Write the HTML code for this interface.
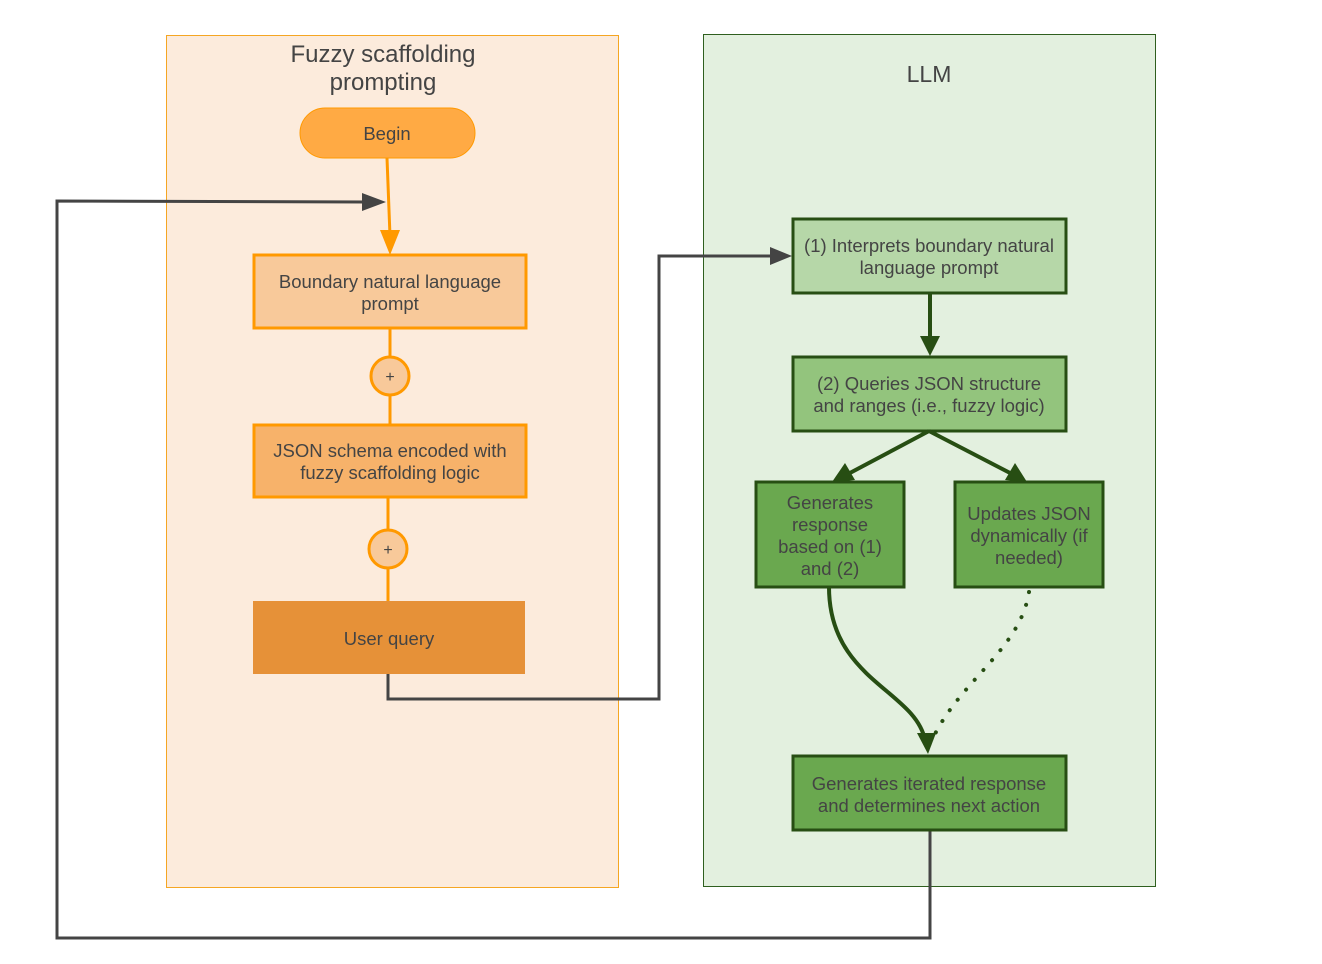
<!DOCTYPE html>
<html><head><meta charset="utf-8"><style>
html,body{margin:0;padding:0;background:#fff;}
svg text{font-family:"Liberation Sans",Arial,sans-serif;fill:#444;}
</style></head><body>
<svg width="1322" height="959" viewBox="0 0 1322 959" xmlns="http://www.w3.org/2000/svg">
<rect x="166.5" y="35.5" width="452" height="852" fill="#fcebdc" stroke="#f5a623" stroke-width="1"/>
<rect x="703.5" y="34.5" width="452" height="852" fill="#e3f0df" stroke="#2f5f1f" stroke-width="1"/>
<text x="383" y="62" font-size="24" text-anchor="middle">Fuzzy scaffolding</text>
<text x="383" y="90" font-size="24" text-anchor="middle">prompting</text>
<text x="929" y="82" font-size="23" text-anchor="middle">LLM</text>

<rect x="300" y="108" width="175" height="50" rx="25" fill="#ffaa44" stroke="#ff9900" stroke-width="1"/>
<text x="387" y="140" font-size="18.5" text-anchor="middle">Begin</text>

<line x1="387" y1="158" x2="390" y2="236" stroke="#ff9900" stroke-width="3"/>
<path d="M380,230 L400,230 L390,255 z" fill="#ff9900"/>
<line x1="390" y1="328" x2="390" y2="425" stroke="#ff9900" stroke-width="3"/>
<line x1="388" y1="497" x2="388" y2="602" stroke="#ff9900" stroke-width="3"/>
<circle cx="390" cy="376" r="19" fill="#f8c99a" stroke="#ff9900" stroke-width="3"/>
<text x="390" y="382" font-size="16" text-anchor="middle">+</text>
<circle cx="388" cy="549" r="19" fill="#f8c99a" stroke="#ff9900" stroke-width="3"/>
<text x="388" y="555" font-size="16" text-anchor="middle">+</text>

<rect x="254" y="255" width="272" height="73" fill="#f8c99a" stroke="#ff9900" stroke-width="3"/>
<text x="390" y="288" font-size="18.5" text-anchor="middle">Boundary natural language</text>
<text x="390" y="310" font-size="18.5" text-anchor="middle">prompt</text>
<rect x="254" y="425" width="272" height="72" fill="#f7b26a" stroke="#ff9900" stroke-width="3"/>
<text x="390" y="457" font-size="18.5" text-anchor="middle">JSON schema encoded with</text>
<text x="390" y="479" font-size="18.5" text-anchor="middle">fuzzy scaffolding logic</text>
<rect x="253" y="601" width="272" height="73" fill="#e69138"/>
<text x="389" y="645" font-size="18.5" text-anchor="middle">User query</text>

<polyline points="388,674 388,699 659,699 659,256 775,256" fill="none" stroke="#444" stroke-width="3"/>
<path d="M770,247 L792,256 L770,265 z" fill="#444"/>
<polyline points="930,830 930,938 57,938 57,201 366,202" fill="none" stroke="#444" stroke-width="3"/>
<path d="M362,193 L386,202 L362,211 z" fill="#444"/>

<rect x="793" y="219" width="273" height="74" fill="#b6d7a8" stroke="#274e13" stroke-width="3"/>
<text x="929" y="252" font-size="18.5" text-anchor="middle">(1) Interprets boundary natural</text>
<text x="929" y="274" font-size="18.5" text-anchor="middle">language prompt</text>
<rect x="793" y="357" width="273" height="74" fill="#93c47d" stroke="#274e13" stroke-width="3"/>
<text x="929" y="390" font-size="18.5" text-anchor="middle">(2) Queries JSON structure</text>
<text x="929" y="412" font-size="18.5" text-anchor="middle">and ranges (i.e., fuzzy logic)</text>
<rect x="756" y="482" width="148" height="105" fill="#6aa84f" stroke="#274e13" stroke-width="3"/>
<text x="830" y="509" font-size="18.5" text-anchor="middle">Generates</text>
<text x="830" y="531" font-size="18.5" text-anchor="middle">response</text>
<text x="830" y="553" font-size="18.5" text-anchor="middle">based on (1)</text>
<text x="830" y="575" font-size="18.5" text-anchor="middle">and (2)</text>
<rect x="955" y="482" width="148" height="105" fill="#6aa84f" stroke="#274e13" stroke-width="3"/>
<text x="1029" y="520" font-size="18.5" text-anchor="middle">Updates JSON</text>
<text x="1029" y="542" font-size="18.5" text-anchor="middle">dynamically (if</text>
<text x="1029" y="564" font-size="18.5" text-anchor="middle">needed)</text>
<rect x="793" y="756" width="273" height="74" fill="#6aa84f" stroke="#274e13" stroke-width="3"/>
<text x="929" y="790" font-size="18.5" text-anchor="middle">Generates iterated response</text>
<text x="929" y="812" font-size="18.5" text-anchor="middle">and determines next action</text>

<line x1="930" y1="293" x2="930" y2="340" stroke="#274e13" stroke-width="4"/>
<path d="M920,336 L940,336 L930,356 z" fill="#274e13"/>
<line x1="929" y1="431" x2="848" y2="474" stroke="#274e13" stroke-width="4"/>
<path d="M832,482 L845,463 L855,480 z" fill="#274e13"/>
<line x1="929" y1="431" x2="1012" y2="474" stroke="#274e13" stroke-width="4"/>
<path d="M1027,482 L1005,480 L1015,463 z" fill="#274e13"/>
<path d="M829,587 C829,680 915,690 925,740" fill="none" stroke="#274e13" stroke-width="4"/>
<path d="M917,733 L936,733 L928,754 z" fill="#274e13"/>
<path d="M1029,592 C1020,650 960,680 932,740" fill="none" stroke="#274e13" stroke-width="4" stroke-dasharray="0.1,13" stroke-linecap="round"/>
</svg>
</body></html>
